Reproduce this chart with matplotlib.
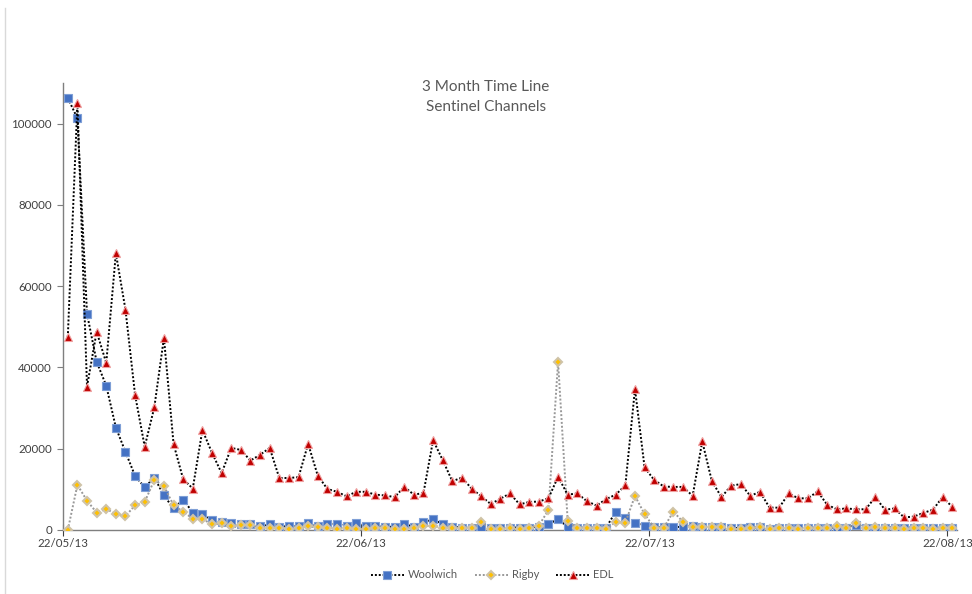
import matplotlib
matplotlib.use("Agg")
import matplotlib.pyplot as plt
import matplotlib.dates as mdates
from matplotlib.lines import Line2D
import numpy as np
import datetime as dt

start_date = "2013-05-22"
n_days = 93
tick_dates = ["2013-05-22", "2013-06-22", "2013-07-22", "2013-08-22"]
yticks = [0, 20000, 40000, 60000, 80000, 100000]

woolwich = [106300, 101300, 53200, 41400, 35500, 25200, 19200, 13300, 10500, 12900,
            8500, 5300, 7500, 4300, 4000, 2400, 1900, 1600, 1400, 1400,
            900, 1400, 800, 1000, 1000, 1600, 1000, 1500, 1500, 1000,
            1600, 1000, 1000, 800, 800, 1500, 800, 2000, 2600, 1500,
            800, 600, 600, 800, 500, 500, 600, 600, 600, 800,
            1500, 2600, 800, 600, 600, 600, 600, 4500, 2900, 1800,
            1000, 700, 700, 700, 800, 1000, 700, 800, 700, 500,
            500, 700, 700, 200, 500, 500, 500, 500, 600, 600,
            600, 600, 1200, 600, 600, 600, 600, 600, 600, 600,
            600, 600, 600]

rigby = [0, 11100, 7200, 4300, 5200, 3900, 3400, 6100, 6900, 12300,
         10800, 6100, 4500, 2800, 2700, 1400, 1600, 1000, 1200, 1300,
         600, 600, 600, 200, 400, 1000, 800, 600, 200, 600,
         200, 200, 600, 600, 200, 200, 600, 1000, 1000, 600,
         600, 600, 600, 2000, 200, 200, 400, 200, 600, 1100,
         4900, 41400, 2300, 400, 400, 400, 200, 2000, 1800, 8400,
         3900, 600, 600, 4500, 2000, 800, 700, 800, 700, 200,
         200, 400, 700, 200, 400, 400, 200, 400, 400, 400,
         1000, 400, 1800, 400, 800, 400, 400, 200, 400, 400,
         200, 400, 400]

edl = [47500, 105000, 35300, 48800, 41100, 68100, 54200, 33200, 20500, 30200,
       47300, 21200, 12500, 10200, 24600, 19000, 14000, 20200, 19700, 17100,
       18500, 20200, 12800, 12800, 13000, 21200, 13400, 10100, 9400, 8300,
       9400, 9400, 8700, 8500, 8100, 10600, 8700, 9100, 22100, 17200,
       12000, 12900, 10200, 8300, 6400, 7700, 9000, 6300, 6900, 7000,
       7800, 13100, 8700, 9000, 7100, 6000, 7600, 8700, 11000, 34700,
       15400, 12300, 10700, 10600, 10600, 8400, 21800, 12000, 8100, 10900,
       11300, 8400, 9400, 5500, 5500, 9000, 7800, 7800, 9500, 6200,
       5100, 5300, 5100, 5100, 8100, 5000, 5300, 3100, 3300, 4200,
       5000, 8100, 5700]

plt.rcParams['font.family'] = ['Lato', 'DejaVu Sans']

d0 = dt.datetime.strptime(start_date, "%Y-%m-%d")
dates = [d0 + dt.timedelta(days=i, hours=12) for i in range(n_days)]
x = mdates.date2num(dates)

fig = plt.figure(figsize=(9.72, 5.94), dpi=100)
ax = fig.add_axes([63/972, 64/594, (957-63)/972, (530-83)/594])

sq = dict(marker='s', ms=6.2, mfc='#4472C4', mec='#7F9FD6', mew=0.8)
dm = dict(marker='D', ms=4.2, mfc='#FFC000', mec='#CFC3A8', mew=1.5)
tr = dict(marker='^', ms=5.8, mfc='#C00000', mec='#EFA0A0', mew=0.8)

ax.plot(x, woolwich, linestyle=(0, (1, 1)), color='black', lw=1.4, zorder=3, **sq)
ax.plot(x, rigby, linestyle=(0, (1, 1)), color='#999999', lw=1.4, zorder=4, **dm)
ax.plot(x, edl, linestyle=(0, (1, 1)), color='black', lw=1.4, zorder=5, **tr)

ax.set_ylim(0, 110000)
ax.set_yticks(yticks)
ax.set_yticklabels([str(v) for v in yticks])
xmin = mdates.date2num(d0)
ax.set_xlim(xmin, xmin + n_days)
tick_x = [mdates.date2num(dt.datetime.strptime(t, "%Y-%m-%d")) for t in tick_dates]
ax.set_xticks(tick_x)
ax.set_xticklabels([dt.datetime.strptime(t, "%Y-%m-%d").strftime("%d/%m/%y") for t in tick_dates])

for s in ['top', 'right']:
    ax.spines[s].set_visible(False)
for s in ['left', 'bottom']:
    ax.spines[s].set_color('#7F7F7F')
    ax.spines[s].set_linewidth(1.0)
ax.tick_params(axis='y', direction='out', length=4, color='#7F7F7F',
               labelsize=8.3, labelcolor='#404040', pad=4)
ax.tick_params(axis='x', direction='inout', length=8, color='#404040',
               labelsize=8.3, labelcolor='#404040', pad=2)
ax.patch.set_visible(False)

fig.text(486/972, 1 - 87/594, "3 Month Time Line", ha='center', va='center',
         fontsize=11, color='#595959')
fig.text(486/972, 1 - 107/594, "Sentinel Channels", ha='center', va='center',
         fontsize=11, color='#595959')

handles = [
    Line2D([], [], linestyle=(0, (1, 1)), color='black', lw=1.4, **sq),
    Line2D([], [], linestyle=(0, (1, 1)), color='#999999', lw=1.4, **dm),
    Line2D([], [], linestyle=(0, (1, 1)), color='black', lw=1.4, **tr),
]
fig.legend(handles, ['Woolwich', 'Rigby', 'EDL'], loc='center',
           bbox_to_anchor=(492/972, 1 - 575/594), ncol=3, frameon=False,
           fontsize=8, labelcolor='#595959', handlelength=3.0, columnspacing=1.5,
           handletextpad=0.35)

fig.add_artist(Line2D([5/972, 5/972], [0, 1 - 8/594], transform=fig.transFigure,
                      color='#D9D9D9', lw=1))

fig.savefig("out.png", dpi=100)
